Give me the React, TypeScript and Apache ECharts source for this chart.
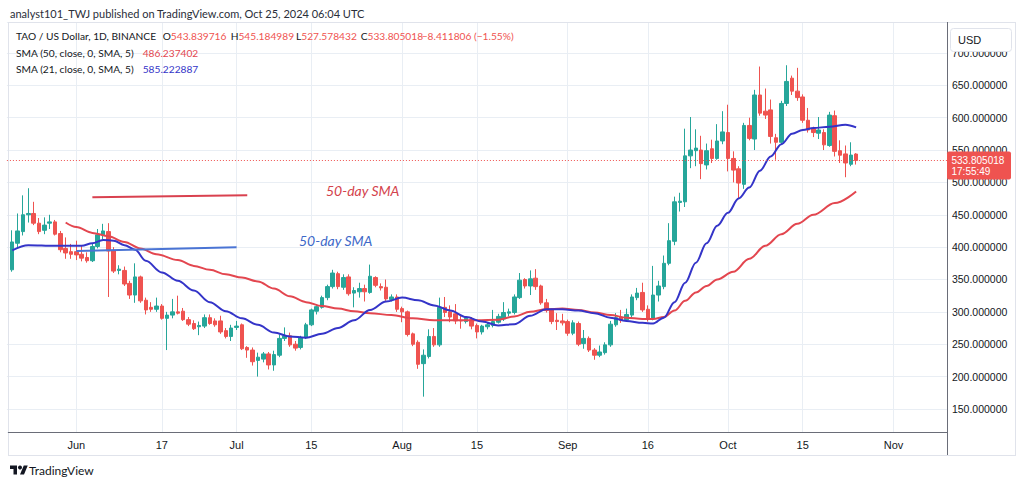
import React, { useEffect, useRef } from 'react';
import * as echarts from 'echarts';

const FONT = '"Liberation Sans", Arial, sans-serif';
const HFONT = 'Lato, "Liberation Sans", sans-serif';

// calendar: May 19, 2024 .. Nov 11, 2024 (one slot per day)
const firstDay = Date.UTC(2024, 4, 19);
const slotCount = 177;
const categories: string[] = [];
for (let k = 0; k < slotCount; k++) {
  categories.push(new Date(firstDay + k * 86400000).toISOString().slice(0, 10));
}

const tickDates = ['2024-06-01', '2024-06-17', '2024-07-01', '2024-07-15', '2024-08-01', '2024-08-15', '2024-09-01', '2024-09-16', '2024-10-01', '2024-10-15', '2024-11-01'];
const tickLabels = ['Jun', '17', 'Jul', '15', 'Aug', '15', 'Sep', '16', 'Oct', '15', 'Nov'];

// daily candles from May 20, 2024 to Oct 25, 2024
const opens = [
  365, 406, 424, 450, 452, 437, 426, 437, 439, 421,
  398, 393, 393, 389, 384, 379, 401, 419, 424, 394,
  364, 364, 344, 326, 354, 318, 307, 304, 309, 290,
  295, 300, 301, 288, 282, 277, 278, 291, 286, 286,
  271, 262, 276, 280, 245, 241, 225, 227, 235, 218,
  233, 259, 263, 250, 245, 260, 280, 301, 307, 322,
  339, 359, 338, 354, 329, 331, 336, 330, 353, 339,
  338, 319, 323, 305, 300, 266, 253, 220, 231, 262,
  249, 307, 300, 297, 287, 285, 288, 279, 269, 277,
  279, 284, 289, 298, 299, 322, 350, 340, 352, 340,
  314, 303, 287, 286, 285, 267, 282, 251, 259, 241,
  233, 237, 249, 280, 292, 288, 295, 322, 330, 304,
  290, 326, 339, 375, 409, 469, 470, 541, 549, 550,
  527, 552, 537, 564, 577, 537, 521, 497, 588, 567,
  635, 610, 612, 569, 562, 622, 661, 641, 632, 596,
  583, 576, 577, 557, 603, 549, 544, 528, 543.839716,
];
const closes = [
  408, 425, 450, 452, 437, 424, 434, 439, 420, 396,
  391, 389, 388, 383, 379, 401, 419, 425, 394, 363,
  366, 343, 326, 354, 317, 303, 304, 309, 290, 295,
  300, 298, 288, 281, 274, 279, 291, 282, 280, 269,
  262, 275, 278, 243, 241, 223, 230, 235, 218, 234,
  259, 263, 249, 244, 260, 280, 303, 308, 322, 339,
  360, 339, 353, 328, 333, 336, 331, 355, 341, 337,
  320, 323, 304, 300, 265, 250, 219, 233, 262, 249,
  307, 299, 292, 286, 286, 290, 278, 269, 278, 280,
  285, 293, 299, 300, 323, 349, 340, 351, 339, 314,
  302, 285, 285, 283, 267, 283, 250, 259, 241, 233,
  238, 249, 281, 291, 287, 296, 323, 329, 303, 289,
  326, 340, 375, 410, 470, 471, 541, 550, 553, 529,
  549, 537, 564, 578, 537, 519, 499, 588, 568, 635,
  607, 604, 571, 562, 622, 656, 641, 631, 596, 581,
  577, 581, 558, 604, 548, 542, 530, 542.2, 533.805018,
];
const lows = [
  362, 400, 418, 438, 434, 420, 420, 428, 418, 392,
  382, 382, 380, 378, 376, 377, 398, 412, 323, 360,
  358, 340, 320, 314, 314, 296, 300, 300, 288, 241,
  290, 296, 286, 278, 272, 264, 275, 280, 277, 266,
  259, 255, 272, 241, 229, 217, 200, 222, 211, 209,
  230, 255, 246, 240, 242, 258, 278, 296, 305, 318,
  336, 335, 334, 325, 307, 322, 316, 328, 338, 333,
  317, 316, 300, 284, 262, 247, 212, 169, 228, 246,
  246, 292, 284, 281, 274, 282, 273, 259, 265, 273,
  276, 282, 286, 293, 296, 320, 336, 326, 334, 311,
  299, 281, 272, 279, 263, 264, 247, 243, 238, 226,
  230, 234, 246, 277, 283, 285, 291, 318, 300, 285,
  287, 316, 335, 372, 403, 455, 462, 522, 525, 505,
  520, 530, 535, 559, 517, 500, 475, 490, 565, 550,
  603, 598, 560, 535, 558, 618, 635, 626, 592, 577,
  570, 567, 550, 555, 540, 530, 508, 525, 527.578432,
];
const highs = [
  426, 452, 480, 491, 470, 445, 446, 450, 442, 425,
  415, 405, 410, 402, 392, 405, 428, 436, 437, 400,
  372, 370, 348, 375, 356, 322, 315, 322, 312, 300,
  320, 325, 306, 292, 287, 285, 296, 296, 290, 294,
  275, 280, 286, 282, 247, 245, 237, 238, 238, 240,
  265, 276, 268, 255, 263, 283, 305, 310, 325, 342,
  365, 362, 358, 358, 338, 345, 342, 373, 355, 344,
  350, 327, 327, 308, 302, 268, 256, 242, 273, 275,
  322, 323, 310, 312, 295, 293, 292, 282, 280, 284,
  303, 297, 315, 305, 327, 360, 352, 364, 366, 342,
  320, 305, 298, 297, 288, 287, 285, 272, 262, 244,
  248, 253, 286, 298, 303, 305, 327, 337, 345, 310,
  371, 348, 387, 437, 478, 484, 583, 601, 582, 572,
  560, 566, 590, 610, 620, 548, 525, 592, 600, 643,
  679, 645, 628, 575, 626, 681, 665, 677, 636, 615,
  586, 601, 582, 609, 611, 565, 557, 562, 545.184989,
];

// SMA 21 (blue) read at sample days (day index from May 20)
const sma21Days = [0, 3, 8, 13, 15, 17, 19, 21, 23, 25, 28, 31, 34, 37, 40, 43, 46, 49, 52, 55, 58, 61, 64, 67, 70, 73, 76, 79, 82, 85, 88, 91, 94, 97, 100, 103, 106, 109, 112, 115, 118, 120, 122, 124, 126, 128, 130, 132, 134, 136, 138, 140, 142, 144, 146, 148, 150, 153, 156, 158];
const sma21Values = [395, 403, 402, 402, 406, 411, 410, 403, 396, 379, 361, 348, 333, 315, 301, 290, 280, 268, 262, 260, 266, 275, 287, 303, 316, 322, 318, 310, 302, 292, 285, 279, 281, 294, 304, 304, 302, 298, 291, 286, 283, 282, 291, 315, 345, 376, 406, 433, 453, 475, 492, 518, 540, 559, 575, 581, 584, 586, 589, 585];
// SMA 50 (red)
const sma50Days = [10, 12, 15, 18, 21, 24, 27, 31, 34, 37, 40, 43, 46, 49, 52, 55, 58, 61, 64, 67, 71, 75, 79, 83, 87, 91, 94, 97, 100, 103, 106, 109, 112, 115, 118, 120, 122, 124, 126, 128, 130, 132, 135, 138, 141, 144, 147, 150, 154, 158];
const sma50Values = [438, 431, 422, 417, 408, 398, 389, 380, 371, 365, 358, 353, 347, 336, 324, 315, 309, 305, 301, 298, 295, 290, 287, 287, 287, 288, 293, 300, 304, 305, 303, 299, 295, 291, 289, 289, 292, 302, 317, 330, 340, 350, 362, 382, 402, 420, 436, 450, 468, 486];

// analyst's drawn trend lines [dayIndex, price]
const redDrawn = [[15, 477], [44, 480]];
const blueDrawn = [[12, 394], [42, 400]];

const lastPrice = 533.805018;

const UP = '#26a69a';
const DOWN = '#ef5350';
const GRID = '#e9eef4';
const TXT = '#131722';

echarts.graphic.registerShape(
  'tvlogo',
  echarts.graphic.extendPath('M14 22H7V11H0V4h14v18zM28 22h-8l7.5-18h8L28 22z', {})
);

export default function App() {
  const ref = useRef<HTMLDivElement>(null);
  useEffect(() => {
    const chart = echarts.init(ref.current!, null, { renderer: 'svg' });
    const slot = (d: number) => d + 1;
    const candleData = opens.map((o, i) => [slot(i), o, closes[i], lows[i], highs[i]]);
    const sma21 = sma21Days.map((d, i) => [slot(d), sma21Values[i]]);
    const sma50 = sma50Days.map((d, i) => [slot(d), sma50Values[i]]);
    const tickSet = new Set(tickDates);
    const showTick = (idx: number) => tickSet.has(categories[idx]);

    const HS = 10.2;
    const t = (x: number, y: number, text: string, extra: any = {}) => ({
      type: 'text', x, y, z: 20,
      style: { text, fill: TXT, fontSize: HS, fontFamily: HFONT, align: 'left', verticalAlign: 'middle', ...extra },
    });
    const rich = {
      a: { fill: TXT, fontSize: HS, fontFamily: HFONT },
      r: { fill: DOWN, fontSize: HS, fontFamily: HFONT },
    };
    const r = (x: number, y: number, text: string) => ({
      type: 'text', x, y, z: 20,
      style: { text, rich, fontSize: HS, fontFamily: HFONT, align: 'left', verticalAlign: 'middle' },
    });

    const option: any = {
      animation: false,
      backgroundColor: '#ffffff',
      grid: { left: 6.9, right: 77.1, top: 22, bottom: 55, containLabel: false },
      xAxis: {
        type: 'category',
        data: categories,
        boundaryGap: false,
        axisLine: { show: false },
        axisTick: { show: false },
        axisLabel: {
          interval: showTick,
          formatter: (v: string) => {
            const k = tickDates.indexOf(v);
            return k >= 0 ? tickLabels[k] : '';
          },
          color: TXT, fontSize: 11, fontFamily: FONT, margin: 7,
        },
        splitLine: { show: true, interval: showTick, lineStyle: { color: GRID, width: 1 } },
      },
      yAxis: {
        type: 'value',
        position: 'right',
        min: 114.4,
        max: 747.8,
        splitNumber: 13,
        axisLine: { show: false },
        axisTick: { show: false },
        axisLabel: {
          margin: 5, color: TXT, fontSize: 10.5, fontFamily: FONT,
          formatter: (v: number) => (Math.abs(v / 50 - Math.round(v / 50)) < 1e-6 ? v.toFixed(6) : ''),
        },
        splitLine: { show: true, lineStyle: { color: GRID, width: 1 } },
      },
      series: [
        {
          type: 'candlestick',
          data: candleData,
          encode: { x: 0, y: [1, 2, 3, 4] },
          barWidth: 4,
          z: 2,
          itemStyle: { color: UP, color0: DOWN, borderColor: UP, borderColor0: DOWN, borderWidth: 1 },
          markLine: {
            silent: true,
            symbol: ['none', 'none'],
            label: { show: false },
            lineStyle: { type: [1, 2], color: DOWN, width: 1 },
            data: [{ yAxis: lastPrice }],
          },
        },
        {
          type: 'line', data: sma21, smooth: 0.35, smoothMonotone: 'x', symbol: 'none', z: 4,
          lineStyle: { color: '#3434c8', width: 2 },
        },
        {
          type: 'line', data: sma50, smooth: 0.35, smoothMonotone: 'x', symbol: 'none', z: 3,
          lineStyle: { color: '#e3464f', width: 2 },
        },
        {
          type: 'line', data: redDrawn.map(([d, v]) => [slot(d), v]), symbol: 'none', z: 5,
          lineStyle: { color: '#d9414f', width: 2 },
        },
        {
          type: 'line', data: blueDrawn.map(([d, v]) => [slot(d), v]), symbol: 'none', z: 5,
          lineStyle: { color: '#4a74d4', width: 2 },
        },
      ],
      graphic: [
        // frame
        { type: 'line', z: 15, shape: { x1: 8, y1: 22.5, x2: 1016, y2: 22.5 }, style: { stroke: '#e0e3eb', lineWidth: 1 } },
        { type: 'line', z: 15, shape: { x1: 8.5, y1: 22, x2: 8.5, y2: 455 }, style: { stroke: '#e0e3eb', lineWidth: 1 } },
        { type: 'line', z: 15, shape: { x1: 8, y1: 455.5, x2: 1016, y2: 455.5 }, style: { stroke: '#e0e3eb', lineWidth: 1 } },
        { type: 'line', z: 15, shape: { x1: 1015.5, y1: 22, x2: 1015.5, y2: 455 }, style: { stroke: '#e0e3eb', lineWidth: 1 } },
        { type: 'line', z: 15, shape: { x1: 947.5, y1: 22, x2: 947.5, y2: 455 }, style: { stroke: '#6a6d78', lineWidth: 1 } },
        { type: 'line', z: 15, shape: { x1: 8, y1: 432.5, x2: 947, y2: 432.5 }, style: { stroke: '#6a6d78', lineWidth: 1 } },
        // header
        t(10, 13.5, 'analyst101_TWJ published on TradingView.com, Oct 25, 2024 06:04 UTC', { fontSize: 11, fill: '#2a2e39' }),
        t(16, 36, 'TAO / US Dollar, 1D, BINANCE'),
        r(162.7, 36, '{a|O}{r|543.839716}'),
        r(230.7, 36, '{a|H}{r|545.184989}'),
        r(296, 36, '{a|L}{r|527.578432}'),
        r(360.7, 36, '{a|C}{r|533.805018}'),
        r(421.7, 36, '{r|\u22128.411806 (\u22121.55%)}'),
        t(16, 52.5, 'SMA (50, close, 0, SMA, 5)'),
        t(142.7, 52.5, '486.237402', { fill: '#e3464f' }),
        t(16, 68.5, 'SMA (21, close, 0, SMA, 5)'),
        t(142.7, 68.5, '585.222887', { fill: '#3434c8' }),
        // annotations
        t(326, 190, '50-day SMA', { fill: '#d3424c', fontSize: 14, fontStyle: 'italic' }),
        t(299, 240, '50-day SMA', { fill: '#3d68c8', fontSize: 14, fontStyle: 'italic' }),
        // USD button
        { type: 'rect', z: 18, shape: { x: 950.5, y: 28.5, width: 61, height: 23, r: 3 }, style: { fill: '#ffffff', stroke: '#e0e3eb', lineWidth: 1 } },
        t(958, 40, 'USD', { fontSize: 11, fontFamily: FONT }),
        // last price tag
        { type: 'rect', z: 18, shape: { x: 947, y: 151.5, width: 64, height: 28, r: 2 }, style: { fill: '#ef5350' } },
        t(951.5, 160.4, '533.805018', { fill: '#ffffff', fontSize: 10, fontFamily: FONT }),
        t(951.5, 171.4, '17:55:49', { fill: '#ffffff', fontSize: 10, fontFamily: FONT }),
        // footer logo
        { type: 'tvlogo', z: 20, x: 10, y: 463.5, scaleX: 0.5, scaleY: 0.5, style: { fill: TXT } },
        { type: 'circle', z: 20, shape: { cx: 20, cy: 467.5, r: 2 }, style: { fill: TXT } },
        t(29, 470, 'TradingView', { fontSize: 12, fill: TXT }),
      ],
    };
    chart.setOption(option);
    return () => chart.dispose();
  }, []);
  return (
    <div
      ref={ref}
      style={{ position: 'fixed', left: 0, top: 0, width: 1024, height: 487, background: '#fff' }}
    />
  );
}
